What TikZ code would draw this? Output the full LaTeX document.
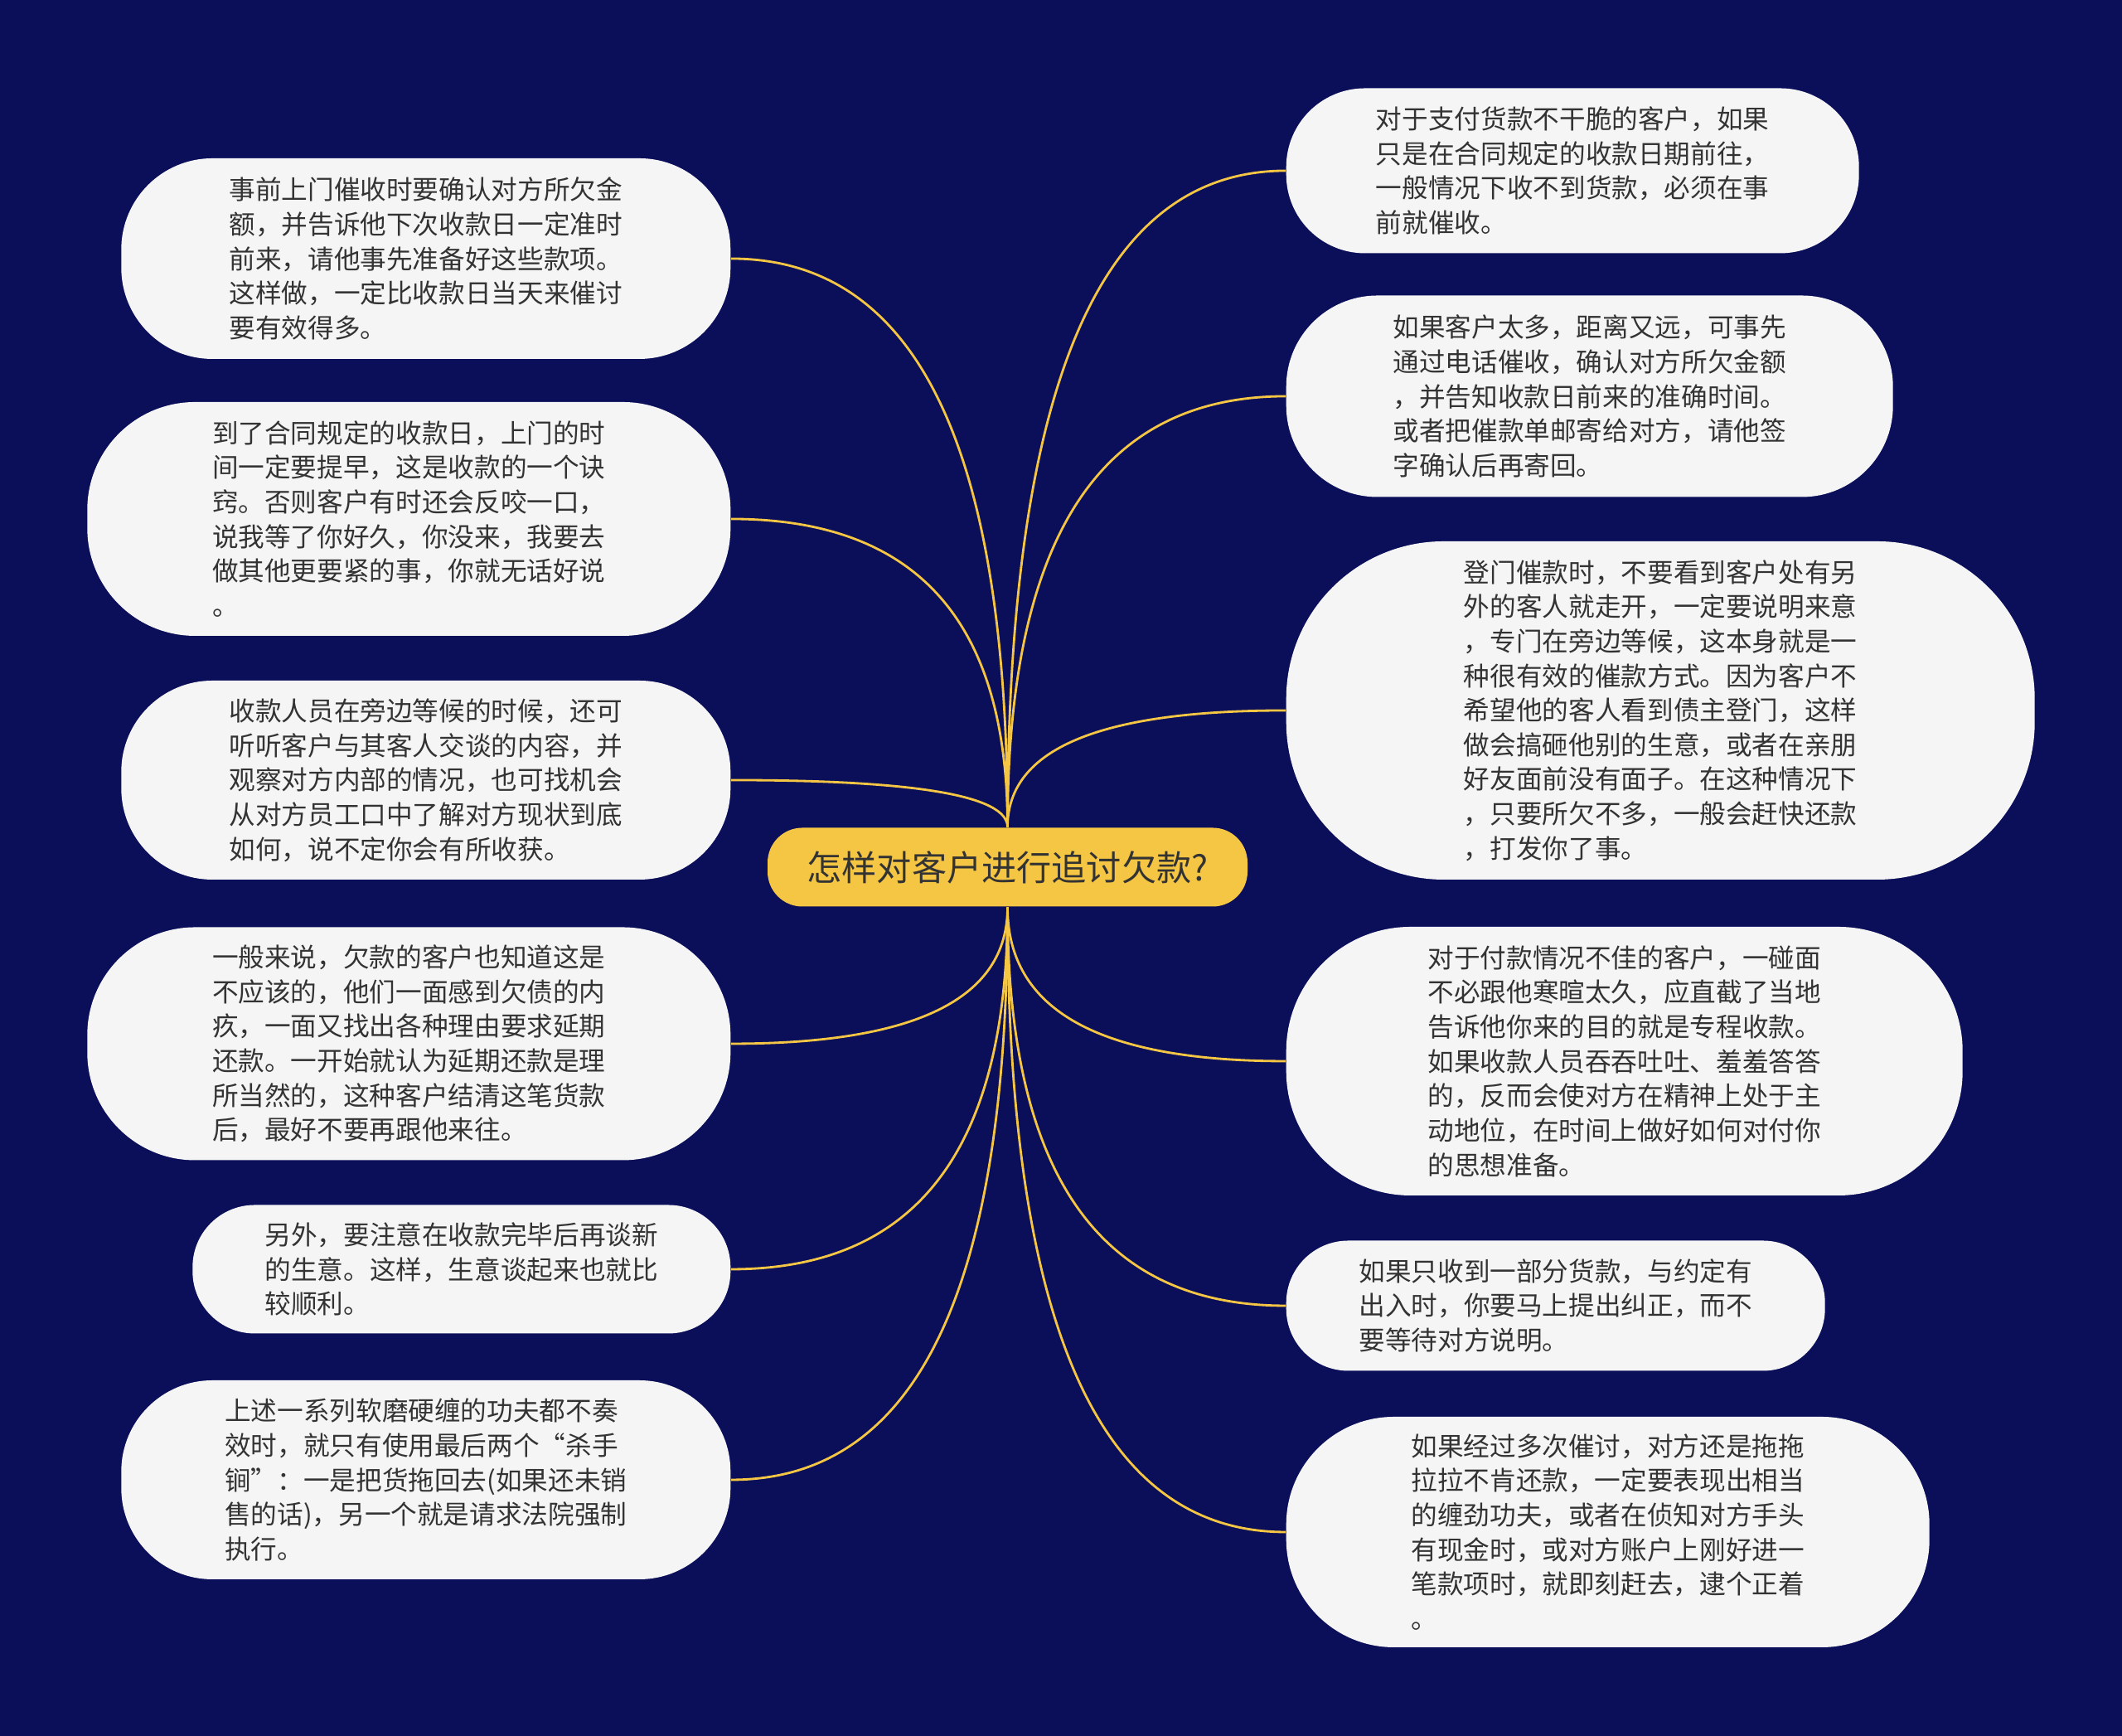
\documentclass[tikz,border=0pt]{standalone}
\usepackage{fontspec}
\setmainfont{Noto Sans CJK SC}
\usetikzlibrary{calc}
\definecolor{bgNavy}{HTML}{0B0F5A}
\definecolor{linkGold}{HTML}{F5C643}
\definecolor{leafGrey}{HTML}{F5F5F5}
\definecolor{inkDark}{HTML}{333333}

\begin{document}
\begin{tikzpicture}[
    leaf/.style={fill=leafGrey,text=inkDark,align=left,inner sep=0pt,
      font=\fontsize{9}{11.85}\selectfont},
    root/.style={fill=linkGold,text=inkDark,rounded corners=0.42cm,inner sep=0pt,
      minimum width=5.79cm,minimum height=0.95cm,font=\fontsize{12}{14}\selectfont},
    link/.style={linkGold,line width=0.8pt}]
  \fill[bgNavy] (0,0) rectangle (25.6,20.94);
  \useasboundingbox (0,0) rectangle (25.6,20.94);

  \node[root] (root) at (12.155,10.48) {怎样对客户进行追讨欠款?};

  % left side
  \node[leaf,anchor=east,minimum width=7.35cm,minimum height=2.42cm,rounded corners=1.1cm] (l1) at (8.82,17.82)
    {事前上门催收时要确认对方所欠金\\额，并告诉他下次收款日一定准时\\前来，请他事先准备好这些款项。\\这样做，一定比收款日当天来催讨\\要有效得多。};
  \node[leaf,anchor=east,minimum width=7.76cm,minimum height=2.82cm,rounded corners=1.3cm] (l2) at (8.82,14.68)
    {到了合同规定的收款日，上门的时\\间一定要提早，这是收款的一个诀\\窍。否则客户有时还会反咬一口，\\说我等了你好久，你没来，我要去\\做其他更要紧的事，你就无话好说\\。};
  \node[leaf,anchor=east,minimum width=7.35cm,minimum height=2.40cm,rounded corners=1.1cm] (l3) at (8.82,11.53)
    {收款人员在旁边等候的时候，还可\\听听客户与其客人交谈的内容，并\\观察对方内部的情况，也可找机会\\从对方员工口中了解对方现状到底\\如何，说不定你会有所收获。};
  \node[leaf,anchor=east,minimum width=7.76cm,minimum height=2.81cm,rounded corners=1.3cm] (l4) at (8.82,8.35)
    {一般来说，欠款的客户也知道这是\\不应该的，他们一面感到欠债的内\\疚，一面又找出各种理由要求延期\\还款。一开始就认为延期还款是理\\所当然的，这种客户结清这笔货款\\后，最好不要再跟他来往。};
  \node[leaf,anchor=east,minimum width=6.49cm,minimum height=1.55cm,rounded corners=0.75cm] (l5) at (8.82,5.63)
    {另外，要注意在收款完毕后再谈新\\的生意。这样，生意谈起来也就比\\较顺利。};
  \node[leaf,anchor=east,minimum width=7.35cm,minimum height=2.40cm,rounded corners=1.1cm] (l6) at (8.82,3.09)
    {上述一系列软磨硬缠的功夫都不奏\\效时，就只有使用最后两个“杀手\\锏”：一是把货拖回去(如果还未销\\售的话)，另一个就是请求法院强制\\执行。};

  % right side
  \node[leaf,anchor=west,minimum width=6.91cm,minimum height=1.99cm,rounded corners=0.95cm] (r1) at (15.51,18.88)
    {对于支付货款不干脆的客户，如果\\只是在合同规定的收款日期前往，\\一般情况下收不到货款，必须在事\\前就催收。};
  \node[leaf,anchor=west,minimum width=7.32cm,minimum height=2.43cm,rounded corners=1.1cm] (r2) at (15.51,16.16)
    {如果客户太多，距离又远，可事先\\通过电话催收，确认对方所欠金额\\，并告知收款日前来的准确时间。\\或者把催款单邮寄给对方，请他签\\字确认后再寄回。};
  \node[leaf,anchor=west,minimum width=9.03cm,minimum height=4.08cm,rounded corners=1.9cm] (r3) at (15.51,12.37)
    {登门催款时，不要看到客户处有另\\外的客人就走开，一定要说明来意\\，专门在旁边等候，这本身就是一\\种很有效的催款方式。因为客户不\\希望他的客人看到债主登门，这样\\做会搞砸他别的生意，或者在亲朋\\好友面前没有面子。在这种情况下\\，只要所欠不多，一般会赶快还款\\，打发你了事。};
  \node[leaf,anchor=west,minimum width=8.16cm,minimum height=3.24cm,rounded corners=1.5cm] (r4) at (15.51,8.14)
    {对于付款情况不佳的客户，一碰面\\不必跟他寒暄太久，应直截了当地\\告诉他你来的目的就是专程收款。\\如果收款人员吞吞吐吐、羞羞答答\\的，反而会使对方在精神上处于主\\动地位，在时间上做好如何对付你\\的思想准备。};
  \node[leaf,anchor=west,minimum width=6.50cm,minimum height=1.57cm,rounded corners=0.75cm] (r5) at (15.51,5.19)
    {如果只收到一部分货款，与约定有\\出入时，你要马上提出纠正，而不\\要等待对方说明。};
  \node[leaf,anchor=west,minimum width=7.76cm,minimum height=2.78cm,rounded corners=1.3cm] (r6) at (15.51,2.46)
    {如果经过多次催讨，对方还是拖拖\\拉拉不肯还款，一定要表现出相当\\的缠劲功夫，或者在侦知对方手头\\有现金时，或对方账户上刚好进一\\笔款项时，就即刻赶去，逮个正着\\。};

  % branches
  \foreach \n/\s in {l1/north,l2/north,l3/north,l4/south,l5/south,l6/south}
    \draw[link] (root.\s) .. controls ($(root.\s)!0.67!(root.\s |- \n.east)$)
      and ($(\n.east)!0.67!(root.\s |- \n.east)$) .. (\n.east);
  \foreach \n/\s in {r1/north,r2/north,r3/north,r4/south,r5/south,r6/south}
    \draw[link] (root.\s) .. controls ($(root.\s)!0.67!(root.\s |- \n.west)$)
      and ($(\n.west)!0.67!(root.\s |- \n.west)$) .. (\n.west);
\end{tikzpicture}
\end{document}
